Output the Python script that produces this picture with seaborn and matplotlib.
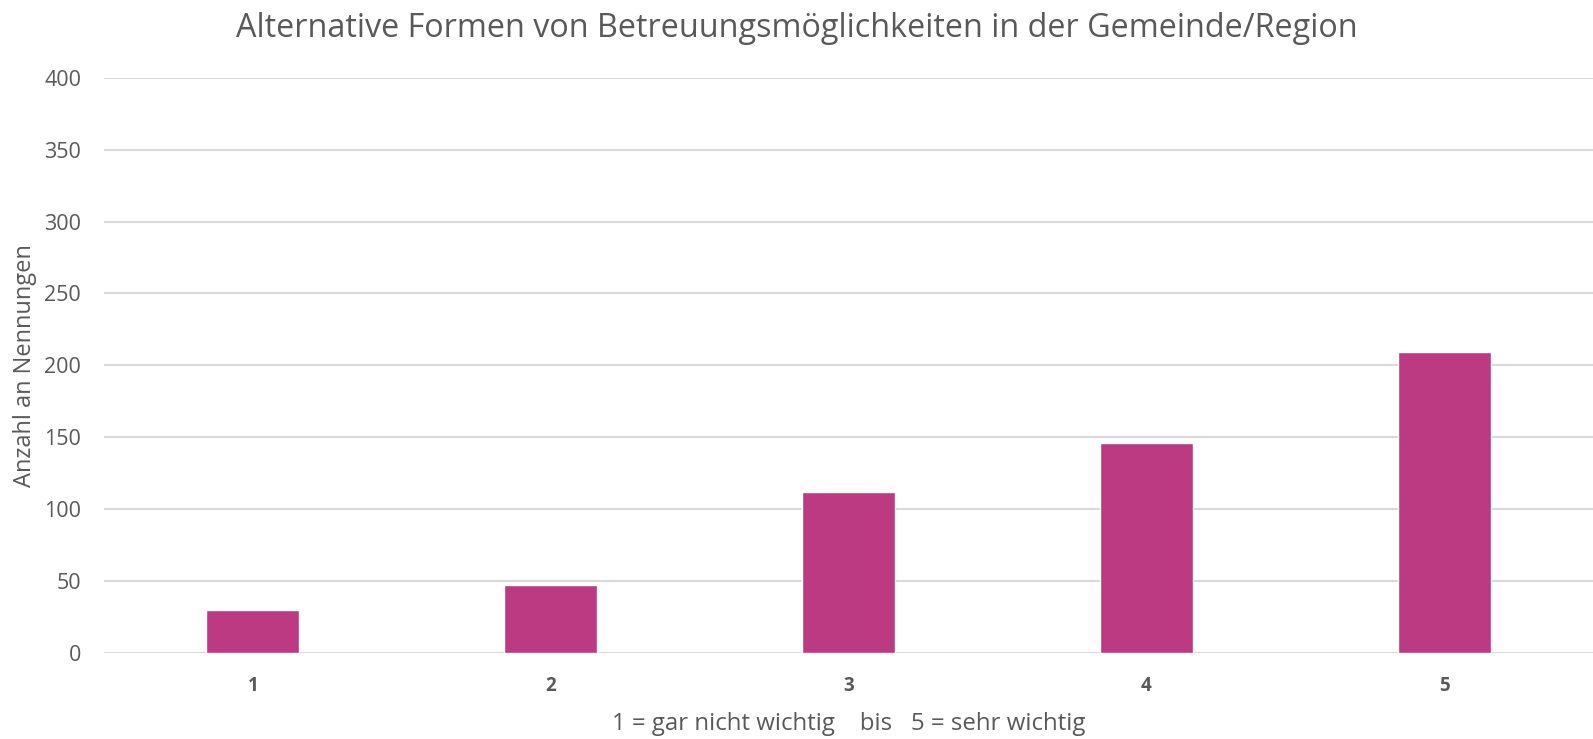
import matplotlib
matplotlib.use("Agg")
import matplotlib.pyplot as plt
import seaborn as sns
import pandas as pd

# Ratings (1 = not important at all ... 5 = very important) and number of responses
ratings = ["1", "2", "3", "4", "5"]
counts = [30, 47, 112, 146, 209]

title = "Alternative Formen von Betreuungsmöglichkeiten in der Gemeinde/Region"
x_label = "1 = gar nicht wichtig    bis   5 = sehr wichtig"
y_label = "Anzahl an Nennungen"
y_ticks = [0, 50, 100, 150, 200, 250, 300, 350, 400]

sns.set_theme(style="white")
plt.rcParams["font.family"] = ["Open Sans", "DejaVu Sans"]

TEXT = "#595959"
GRID = "#D9D9D9"
BAR = "#BB3A82"

df = pd.DataFrame({"rating": ratings, "count": counts})

fig = plt.figure(figsize=(15.93, 7.39), dpi=100)
ax = fig.add_axes([0.0653, 0.1168, 0.9347, 0.7777])

sns.barplot(data=df, x="rating", y="count", color=BAR, saturation=1,
            width=0.3125, ax=ax, zorder=3)

ax.set_xlim(-0.5, len(ratings) - 0.5)
ax.set_ylim(0, 400)
ax.set_yticks(y_ticks)
ax.yaxis.grid(True, color=GRID, linewidth=1.5, zorder=0)
ax.set_axisbelow(True)
for s in ax.spines.values():
    s.set_visible(False)

ax.tick_params(axis="y", length=0, pad=16.5, labelsize=15.5, labelcolor=TEXT)
ax.tick_params(axis="x", length=0, pad=17, labelsize=13.5, labelcolor=TEXT)
for lbl in ax.get_xticklabels():
    lbl.set_fontweight("bold")

ax.set_xlabel(x_label, fontsize=17.3, color=TEXT, labelpad=11)
ax.set_ylabel(y_label, fontsize=17, color=TEXT, labelpad=5)

fig.text(0.5, 0.962, title, ha="center", va="center", fontsize=23.3, color=TEXT)

fig.savefig("out.png", dpi=100)
